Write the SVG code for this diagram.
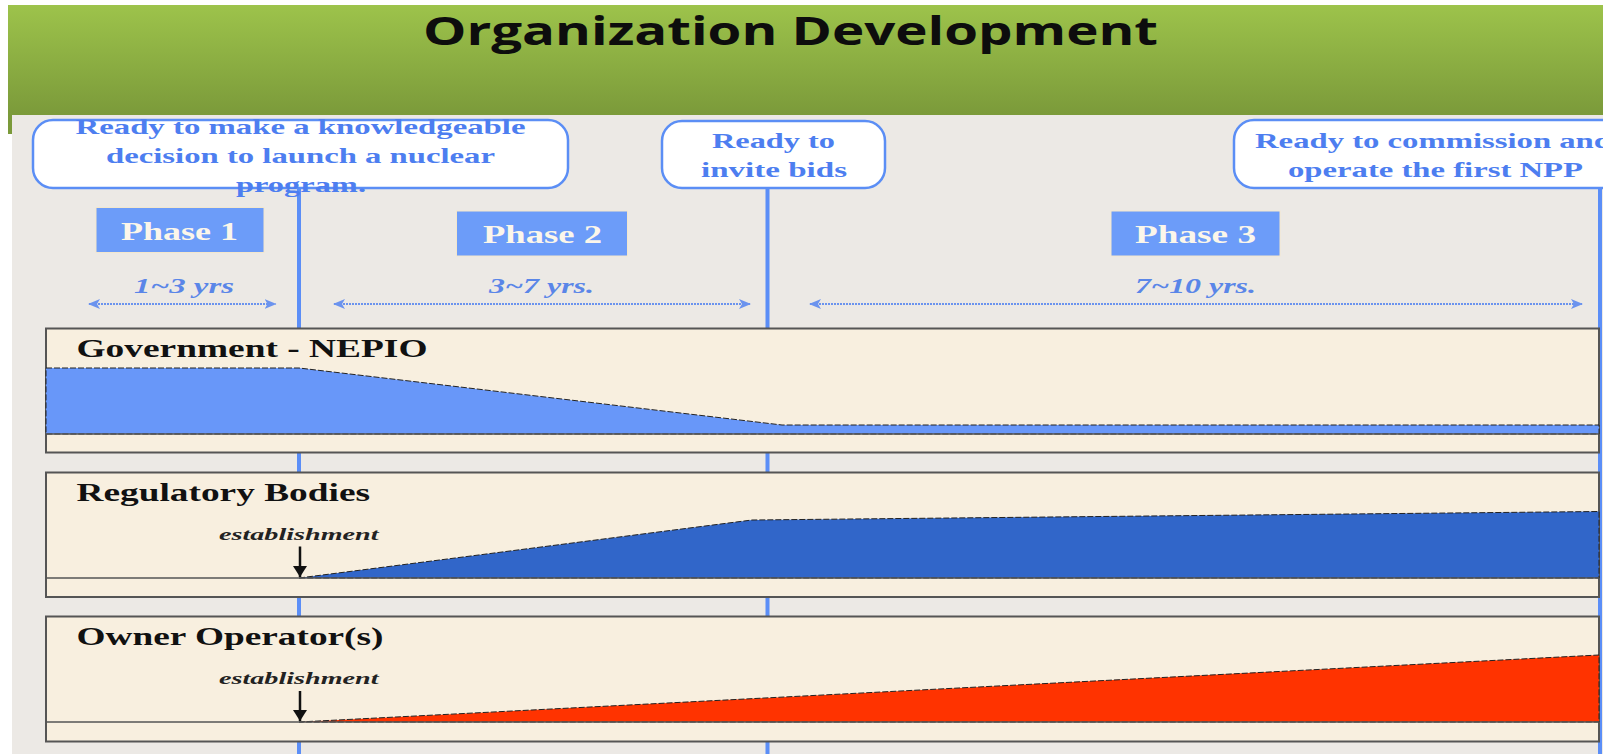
<svg xmlns="http://www.w3.org/2000/svg" width="1603" height="754" viewBox="0 0 1603 754">
  <defs>
    <linearGradient id="hdr" x1="0" y1="0" x2="0" y2="1">
      <stop offset="0" stop-color="#9dc34b"/>
      <stop offset="1" stop-color="#7b9a3a"/>
    </linearGradient>
    <marker id="ah" viewBox="0 0 12 10" refX="11" refY="5" markerWidth="12" markerHeight="10" markerUnits="userSpaceOnUse" orient="auto-start-reverse">
      <path d="M0,0 L12,5 L0,10 L3,5 Z" fill="#6b93ee"/>
    </marker>
    <marker id="dn" viewBox="0 0 14 11" refX="7" refY="11" markerWidth="14" markerHeight="11" markerUnits="userSpaceOnUse" orient="0">
      <path d="M0,0 L14,0 L7,11 Z" fill="#111"/>
    </marker>
    <style>
      .callout { fill: #ffffff; stroke: #5b8ef5; stroke-width: 2.5; }
      .ctext { font-family: "Liberation Serif", "Times New Roman", serif; font-weight: bold; font-size: 22px; fill: #4d7ef0; }
      .phase { fill: #6c9cf9; stroke: #f3e7cd; stroke-width: 1; }
      .ptext { font-family: "Liberation Serif", "Times New Roman", serif; font-weight: bold; font-size: 25px; fill: #fbf6ea; }
      .dur { font-family: "Liberation Serif", "Times New Roman", serif; font-weight: bold; font-style: italic; font-size: 21px; fill: #5a86e8; }
      .darrow { stroke: #6b93ee; stroke-width: 2; stroke-dasharray: 2 1; fill: none; }
      .vline { stroke: #5b8ef7; stroke-width: 4; }
      .band { fill: #f8efdf; stroke: #555; stroke-width: 2; }
      .sep { stroke: #555; stroke-width: 1.5; }
      .btext { font-family: "Liberation Serif", "Times New Roman", serif; font-weight: bold; font-size: 25px; fill: #111; }
      .est { font-family: "Liberation Serif", "Times New Roman", serif; font-weight: bold; font-style: italic; font-size: 17px; fill: #222; }
      .earrow { stroke: #111; stroke-width: 2.5; }
      .area { stroke: #222; stroke-width: 1; stroke-dasharray: 6 2; }
    </style>
  </defs>

  <!-- background -->
  <rect x="0" y="0" width="1603" height="754" fill="#ffffff"/>
  <rect x="8" y="5" width="1595" height="110" fill="url(#hdr)"/>
  <rect x="8" y="114" width="4" height="20" fill="#7b9a3a"/>
  <rect x="12" y="115" width="1591" height="639" fill="#ece9e5"/>

  <text x="423" y="45" font-family="'Open Sans', 'Noto Sans', sans-serif" font-weight="700" font-size="39" fill="#0d0d0d" textLength="735" lengthAdjust="spacingAndGlyphs">Organization Development</text>

  <!-- connectors -->
  <g id="connectors">
    <line class="vline" x1="299" y1="188" x2="299" y2="754"/>
    <line class="vline" x1="767.5" y1="188" x2="767.5" y2="754"/>
    <line class="vline" x1="1600" y1="188" x2="1600" y2="754"/>
    <line class="darrow" x1="89" y1="304" x2="275.5" y2="304" marker-start="url(#ah)" marker-end="url(#ah)"/>
    <line class="darrow" x1="334" y1="304" x2="750" y2="304" marker-start="url(#ah)" marker-end="url(#ah)"/>
    <line class="darrow" x1="810" y1="304" x2="1582" y2="304" marker-start="url(#ah)" marker-end="url(#ah)"/>
  </g>

  <!-- milestone callouts -->
  <g id="milestone1">
    <rect class="callout" x="33" y="120" width="535" height="68" rx="20" ry="20"/>
    <text class="ctext" x="75.5" y="134" textLength="450" lengthAdjust="spacingAndGlyphs">Ready to make a knowledgeable</text>
    <text class="ctext" x="106" y="163" textLength="389" lengthAdjust="spacingAndGlyphs">decision to launch a nuclear</text>
    <text class="ctext" x="236" y="192" textLength="130" lengthAdjust="spacingAndGlyphs">program.</text>
  </g>
  <g id="milestone2">
    <rect class="callout" x="662" y="121" width="223" height="67" rx="20" ry="20"/>
    <text class="ctext" x="712" y="148" textLength="123" lengthAdjust="spacingAndGlyphs">Ready to</text>
    <text class="ctext" x="701" y="177" textLength="146" lengthAdjust="spacingAndGlyphs">invite bids</text>
  </g>
  <g id="milestone3">
    <rect class="callout" x="1234" y="120" width="400" height="68" rx="20" ry="20"/>
    <text class="ctext" x="1255" y="148" textLength="357" lengthAdjust="spacingAndGlyphs">Ready to commission and</text>
    <text class="ctext" x="1288" y="177" textLength="295" lengthAdjust="spacingAndGlyphs">operate the first NPP</text>
  </g>

  <!-- phases -->
  <g id="phase1">
    <rect class="phase" x="96" y="207.5" width="168" height="45"/>
    <text class="ptext" x="121" y="240" textLength="117" lengthAdjust="spacingAndGlyphs">Phase 1</text>
    <text class="dur" x="134" y="292.5" textLength="100" lengthAdjust="spacingAndGlyphs">1~3 yrs</text>
  </g>
  <g id="phase2">
    <rect class="phase" x="456.5" y="211" width="171" height="45"/>
    <text class="ptext" x="483" y="243" textLength="119" lengthAdjust="spacingAndGlyphs">Phase 2</text>
    <text class="dur" x="489" y="292.5" textLength="105" lengthAdjust="spacingAndGlyphs">3~7 yrs.</text>
  </g>
  <g id="phase3">
    <rect class="phase" x="1111" y="211" width="169" height="45"/>
    <text class="ptext" x="1135" y="243" textLength="121" lengthAdjust="spacingAndGlyphs">Phase 3</text>
    <text class="dur" x="1135" y="292.5" textLength="121" lengthAdjust="spacingAndGlyphs">7~10 yrs.</text>
  </g>

  <!-- bands -->
  <g id="band-government">
    <rect class="band" x="46" y="328.5" width="1553" height="124"/>
    <polygon class="area" points="46,368 299,368 782,425 1599,425 1599,434 46,434" fill="#6897f9"/>
    <line class="sep" x1="46" y1="434" x2="1599" y2="434"/>
    <text class="btext" x="76.5" y="356.5" textLength="351" lengthAdjust="spacingAndGlyphs">Government - NEPIO</text>
  </g>
  <g id="band-regulatory">
    <rect class="band" x="46" y="472.5" width="1553" height="124.5"/>
    <polygon class="area" points="299,578 752,520 1599,511.5 1599,578" fill="#3166c9"/>
    <line class="sep" x1="46" y1="578" x2="1599" y2="578"/>
    <text class="btext" x="76.5" y="501" textLength="293.5" lengthAdjust="spacingAndGlyphs">Regulatory Bodies</text>
    <text class="est" x="219" y="540" textLength="159.5" lengthAdjust="spacingAndGlyphs">establishment</text>
    <line class="earrow" x1="300" y1="546.5" x2="300" y2="577" marker-end="url(#dn)"/>
  </g>
  <g id="band-owner">
    <rect class="band" x="46" y="616.5" width="1553" height="125"/>
    <polygon class="area" points="299,722 1599,655 1599,722" fill="#ff3300"/>
    <line class="sep" x1="46" y1="722" x2="1599" y2="722"/>
    <text class="btext" x="76.5" y="645" textLength="307" lengthAdjust="spacingAndGlyphs">Owner Operator(s)</text>
    <text class="est" x="219" y="683.5" textLength="159.5" lengthAdjust="spacingAndGlyphs">establishment</text>
    <line class="earrow" x1="300" y1="691" x2="300" y2="721" marker-end="url(#dn)"/>
  </g>
</svg>
